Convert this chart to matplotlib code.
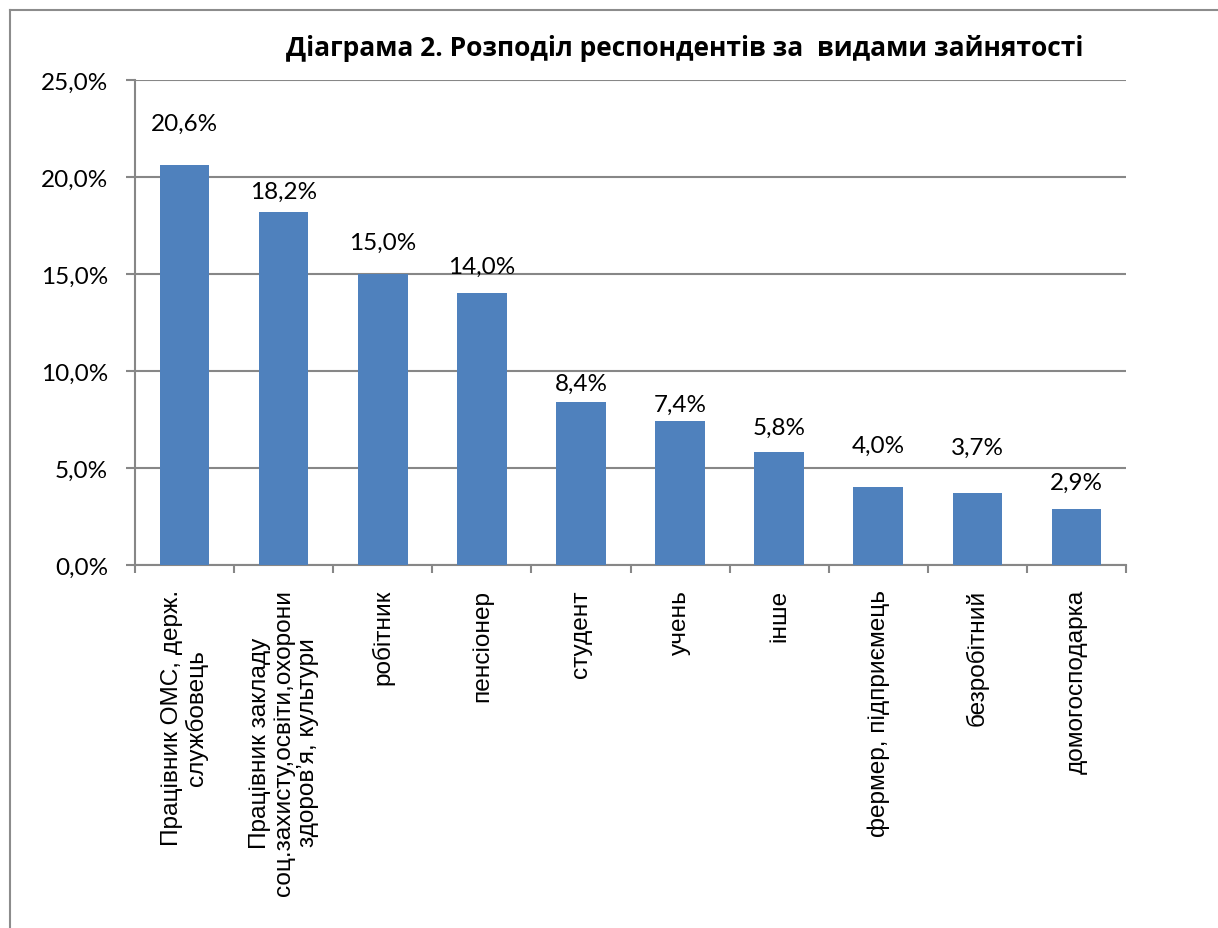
import matplotlib
matplotlib.use("Agg")
import matplotlib.pyplot as plt
from matplotlib.ticker import FuncFormatter, FixedLocator
from matplotlib.lines import Line2D

# ---- data ----
categories = [
    "Працівник ОМС, держ.\nслужбовець",
    "Працівник закладу\nсоц.захисту,освіти,охорони\nздоров’я, культури",
    "робітник",
    "пенсіонер",
    "студент",
    "учень",
    "інше",
    "фермер, підприємець",
    "безробітний",
    "домогосподарка",
]
values = [20.6, 18.2, 15.0, 14.0, 8.4, 7.4, 5.8, 4.0, 3.7, 2.9]
y_ticks = [0, 5, 10, 15, 20, 25]
title = "Діаграма 2. Розподіл респондентів за  видами зайнятості"

# ---- style ----
BAR_COLOR = "#4F81BD"
GRID_COLOR = "#878787"
NUM_FONT = ["Lato", "DejaVu Sans"]
LBL_FONT = ["Liberation Sans", "DejaVu Sans"]
TITLE_FONT = ["Open Sans", "DejaVu Sans"]
label_gap_px = [36, 14, 25, 21, 12, 11, 19, 36, 39, 20]

W, H, DPI = 1218, 929, 100
fig = plt.figure(figsize=(W / DPI, H / DPI), dpi=DPI)
ax = fig.add_axes([135 / W, 1 - 566 / H, (1126 - 135) / W, (566 - 81) / H])

x = list(range(len(values)))
bars = ax.bar(x, values, width=0.5, color=BAR_COLOR, zorder=3)

ax.set_xlim(-0.5, len(values) - 0.5)
ax.set_ylim(0, 25)
ax.set_yticks(y_ticks)
ax.yaxis.set_major_formatter(FuncFormatter(lambda v, p: f"{v:.1f}%".replace(".", ",")))
ax.grid(axis="y", color=GRID_COLOR, linewidth=1.5, zorder=0)

for s in ["top", "right"]:
    ax.spines[s].set_visible(False)
for s in ["left", "bottom"]:
    ax.spines[s].set_color(GRID_COLOR)
    ax.spines[s].set_linewidth(1.5)

ax.tick_params(axis="y", direction="out", length=9 * 0.72, width=1.5, color=GRID_COLOR,
               pad=13)
for t in ax.get_yticklabels():
    t.set_fontfamily(NUM_FONT)
    t.set_fontsize(17.5)

# x ticks: marks at boundaries, labels at centers
ax.set_xticks(x)
ax.set_xticklabels(categories, rotation=90, ha="center", va="top",
                   multialignment="center", fontfamily=LBL_FONT, fontsize=17.6,
                   linespacing=1.12)
ax.tick_params(axis="x", which="major", length=0, pad=24 * 0.72)
ax.xaxis.set_minor_locator(FixedLocator([i - 0.5 for i in range(len(values) + 1)]))
ax.tick_params(axis="x", which="minor", direction="out", length=8 * 0.72, width=1.5,
               color=GRID_COLOR)

for b, v, g in zip(bars, values, label_gap_px):
    ax.annotate(f"{v:.1f}%".replace(".", ","),
                xy=(b.get_x() + b.get_width() / 2, v),
                xytext=(0, g * 0.72), textcoords="offset points",
                ha="center", va="baseline", fontfamily=NUM_FONT, fontsize=17.5)

fig.text(685 / W, 1 - 56 / H, title, ha="center", va="baseline",
         fontfamily=TITLE_FONT, fontweight="bold", fontsize=19)

# outer chart frame (left and top edges visible)
fig.add_artist(Line2D([10 / W, 10 / W], [0, 1 - 11 / H], transform=fig.transFigure,
                      color="#8C8C8C", linewidth=1.5))
fig.add_artist(Line2D([10 / W, 1], [1 - 11 / H, 1 - 11 / H], transform=fig.transFigure,
                      color="#8C8C8C", linewidth=1.5))

fig.savefig("out.png", dpi=DPI)
